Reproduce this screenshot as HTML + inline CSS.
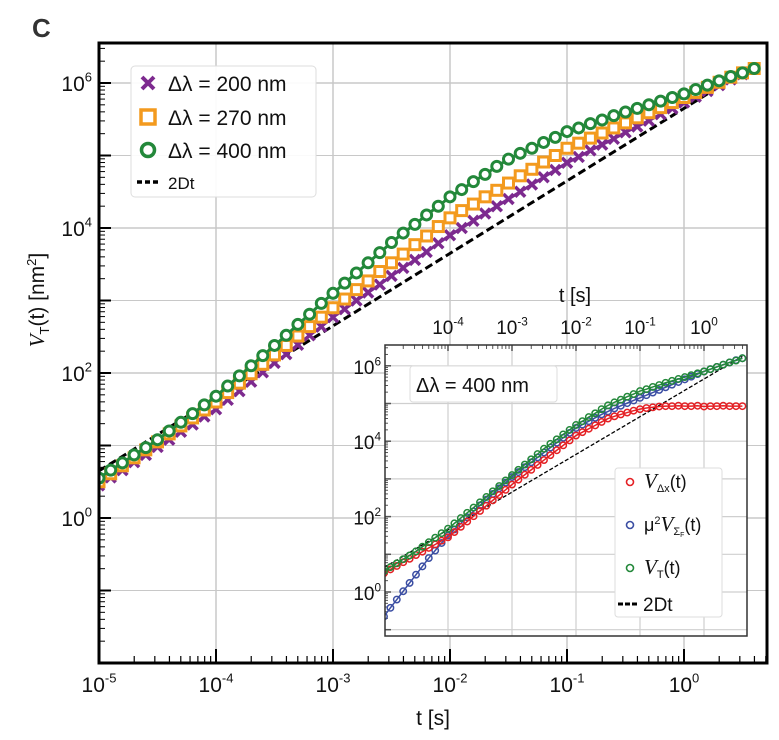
<!DOCTYPE html>
<html><head><meta charset="utf-8"><style>
html,body{margin:0;padding:0;background:#fff;width:779px;height:740px;overflow:hidden}
svg{display:block;font-family:"Liberation Sans",sans-serif}
</style></head><body>
<svg id="c" width="779" height="740" viewBox="0 0 779 740">
<text x="32" y="37" font-size="26" font-weight="bold" fill="#333">C</text>
</svg>
<script>
const tLog = [];
for (let i = 0; i <= 56; i++) tLog.push(-5 + i * 0.1);
const green400 = [0.55,0.66,0.76,0.87,0.97,1.08,1.2,1.32,1.44,1.56,1.68,1.82,1.96,2.1,2.24,2.38,2.52,2.67,2.81,2.96,3.1,3.24,3.38,3.52,3.66,3.8,3.93,4.05,4.18,4.3,4.43,4.53,4.64,4.74,4.85,4.95,5.03,5.1,5.18,5.25,5.33,5.38,5.44,5.49,5.55,5.6,5.65,5.7,5.75,5.8,5.85,5.91,5.97,6.03,6.09,6.14,6.2];
const orange270 = [0.5,0.61,0.72,0.83,0.94,1.05,1.16,1.27,1.38,1.49,1.6,1.73,1.86,1.99,2.12,2.25,2.38,2.51,2.64,2.77,2.9,3.02,3.15,3.27,3.4,3.52,3.64,3.77,3.89,4.02,4.14,4.24,4.33,4.43,4.52,4.62,4.72,4.81,4.91,5.0,5.1,5.17,5.24,5.31,5.38,5.45,5.52,5.59,5.66,5.73,5.8,5.87,5.94,6.01,6.08,6.14,6.2];
const purple200 = [0.45,0.56,0.66,0.77,0.87,0.98,1.08,1.19,1.29,1.4,1.5,1.63,1.75,1.88,2.01,2.14,2.26,2.39,2.52,2.64,2.77,2.88,3.0,3.11,3.22,3.34,3.45,3.56,3.67,3.79,3.9,4.0,4.1,4.2,4.3,4.4,4.5,4.6,4.7,4.8,4.9,4.98,5.07,5.15,5.23,5.32,5.4,5.48,5.57,5.65,5.73,5.81,5.89,5.97,6.05,6.12,6.2];
const redDx = [0.5,0.6,0.69,0.79,0.88,0.98,1.07,1.17,1.26,1.36,1.45,1.59,1.73,1.87,2.01,2.15,2.29,2.43,2.57,2.71,2.85,2.98,3.11,3.24,3.37,3.5,3.63,3.76,3.89,4.02,4.15,4.24,4.33,4.42,4.51,4.6,4.66,4.71,4.76,4.81,4.85,4.88,4.9,4.92,4.93,4.93,4.94,4.93,4.93,4.94,4.92,4.93,4.93,4.94,4.93,4.93,4.93];
const blueSig = [-0.65,-0.42,-0.2,0.02,0.24,0.46,0.68,0.9,1.1,1.3,1.5,1.66,1.82,1.98,2.14,2.3,2.45,2.6,2.75,2.9,3.05,3.18,3.31,3.44,3.57,3.7,3.83,3.96,4.09,4.22,4.35,4.44,4.53,4.62,4.71,4.79,4.87,4.94,5.01,5.08,5.15,5.22,5.29,5.36,5.43,5.5,5.57,5.64,5.71,5.78,5.85,5.91,5.97,6.03,6.09,6.15,6.2];
const diffLine = [-5, 0.6];
const diffOffset = 5.65;
const xTickExp = [-5,-4,-3,-2,-1,0];
const yTickExp = [0,2,4,6];
const insetXTickExp = [-4,-3,-2,-1,0];

const NS = "http://www.w3.org/2000/svg";
const svg = document.getElementById('c');
function el(tag, attrs, parent) {
  const e = document.createElementNS(NS, tag);
  for (const k in attrs) e.setAttribute(k, attrs[k]);
  (parent || svg).appendChild(e);
  return e;
}
const M = {x0:99, x1:767, y0:43, y1:663};
const mx = lt => 99 + (lt + 5) * 117;
const my = lv => 518 - lv * 72.5;
const I = {x0:385, x1:747, y0:345, y1:636};
const ix = lt => 448 + (lt + 4) * 64;
const iy = lv => 592 - lv * 37.7;

function expLabel(parent, x, y, e, size, anchor) {
  const t = el('text', {x:x, y:y, 'font-size':size, 'text-anchor':anchor, fill:'#111'}, parent);
  t.textContent = '10';
  const s = el('tspan', {dy: -size*0.45, 'font-size': size*0.62}, t);
  s.textContent = String(e);
  return t;
}

// ===== main plot =====
const gMain = el('g', {});


const gGrid = el('g', {stroke:'#c8c8c8', 'stroke-width':1.5}, gMain);


xTickExp.forEach(e => el('line', {x1:mx(e), x2:mx(e), y1:M.y0, y2:M.y1}, gGrid));
[-2,0,2,4,6].forEach(e => el('line', {x1:M.x0, x2:M.x1, y1:my(e), y2:my(e)}, gGrid));
[-1,1,3,5].forEach(e => el('line', {x1:M.x0, x2:M.x1, y1:my(e), y2:my(e), 'stroke-width':1}, gGrid));
const gTicks = el('g', {stroke:'#000'}, gMain);


for (let d = -5; d <= 0; d++) {
  el('line', {x1:mx(d), x2:mx(d), y1:M.y1, y2:M.y1-14, 'stroke-width':2}, gTicks);
  for (let k = 2; k <= 9; k++) {
    const x = mx(d + Math.log10(k));
    if (x < M.x1) el('line', {x1:x, x2:x, y1:M.y1, y2:M.y1-7, 'stroke-width':1.2}, gTicks);
  }
}
for (let d = -2; d <= 6; d++) {
  el('line', {x1:M.x0, x2:M.x0+12, y1:my(d), y2:my(d), 'stroke-width':2}, gTicks);
  for (let k = 2; k <= 9; k++) {
    const y = my(d + Math.log10(k));
    if (y > M.y0) el('line', {x1:M.x0, x2:M.x0+6, y1:y, y2:y, 'stroke-width':1}, gTicks);
  }
}
xTickExp.forEach(e => {
  const t = expLabel(gMain, mx(e), 692, e, 21, 'middle');
  
  
});
yTickExp.forEach(e => {
  const t = expLabel(gMain, 92, my(e)+8, e, 21, 'end');
  
  
});
const xt = el('text', {x:433, y:725, 'font-size':21, 'text-anchor':'middle', fill:'#111'}, gMain);
xt.textContent = 't [s]';


const yt = el('text', {transform:'translate(44,300) rotate(-90)', 'font-size':21, 'text-anchor':'middle', fill:'#111'}, gMain);
yt.innerHTML = '<tspan font-family="Liberation Serif" font-style="italic">V</tspan><tspan font-size="13" dy="5">T</tspan><tspan dy="-5">(t) [nm</tspan><tspan font-size="13" dy="-8">2</tspan><tspan dy="8">]</tspan>';



const defs = el('defs', {});
const cp = el('clipPath', {id:'mclip'}, defs);
el('rect', {x:M.x0, y:M.y0, width:M.x1-M.x0, height:M.y1-M.y0}, cp);
const cp2 = el('clipPath', {id:'iclip'}, defs);
el('rect', {x:I.x0, y:I.y0, width:I.x1-I.x0, height:I.y1-I.y0}, cp2);

const gData = el('g', {'clip-path':'url(#mclip)'}, gMain);
function pts(arr, fx, fy) { return arr.map((v,i) => fx(tLog[i]) + ',' + fy(v)).join(' '); }
const dl = el('line', {x1:mx(diffLine[0]), y1:my(diffLine[0]+diffOffset), x2:mx(diffLine[1]), y2:my(diffLine[1]+diffOffset), stroke:'#000', 'stroke-width':3, 'stroke-dasharray':'8,4'}, gData);


const series = [
  {name:'purple-200nm', data:purple200, col:'#7d2a8f', m:'x'},
  {name:'orange-270nm', data:orange270, col:'#f39a1e', m:'s'},
  {name:'green-400nm', data:green400, col:'#23883a', m:'o'}
];
series.forEach(s => {
  const g = el('g', {}, gData);
  
  
  el('polyline', {points:pts(s.data, mx, my), fill:'none', stroke:s.col, 'stroke-width':3}, g);
  s.data.forEach((v,i) => {
    const x = mx(tLog[i]), y = my(v);
    let m;
    if (s.m === 'x') { m = el('path', {d:`M${x-5},${y-5}L${x+5},${y+5}M${x-5},${y+5}L${x+5},${y-5}`, stroke:s.col, 'stroke-width':3.5}, g); }
    else if (s.m === 's') { m = el('rect', {x:x-5, y:y-5, width:10, height:10, fill:'#fff', stroke:s.col, 'stroke-width':3}, g); }
    else { m = el('circle', {cx:x, cy:y, r:5, fill:'#fff', stroke:s.col, 'stroke-width':3}, g); }
    
    
  });
});
const frame = el('rect', {x:M.x0, y:M.y0, width:M.x1-M.x0, height:M.y1-M.y0, fill:'none', stroke:'#000', 'stroke-width':3}, gMain);



const lg = el('g', {}, gMain);


el('rect', {x:131, y:66, width:185, height:131, rx:4, fill:'#fff', 'fill-opacity':0.9, stroke:'#ddd'}, lg);
const legItems = [['x','#7d2a8f','Δλ = 200 nm',83],['s','#f39a1e','Δλ = 270 nm',117],['o','#23883a','Δλ = 400 nm',150]];
legItems.forEach(([m,c,l,y]) => {
  const x = 148;
  if (m==='x') el('path', {d:`M${x-6},${y-6}L${x+6},${y+6}M${x-6},${y+6}L${x+6},${y-6}`, stroke:c, 'stroke-width':4}, lg);
  else if (m==='s') el('rect', {x:x-7, y:y-7, width:14, height:14, fill:'#fff', stroke:c, 'stroke-width':3.5}, lg);
  else el('circle', {cx:x, cy:y, r:6.5, fill:'#fff', stroke:c, 'stroke-width':3.5}, lg);
  const t = el('text', {x:168, y:y+8, 'font-size':21, fill:'#111'}, lg);
  t.textContent = l;
  
  
});
el('line', {x1:137, x2:158, y1:182, y2:182, stroke:'#000', 'stroke-width':3.5, 'stroke-dasharray':'5,3'}, lg);
const t2 = el('text', {x:168, y:189, 'font-size':17, fill:'#111'}, lg);
t2.textContent = '2Dt';

// ===== inset =====
const gIn = el('g', {});


el('rect', {x:I.x0, y:I.y0, width:I.x1-I.x0, height:I.y1-I.y0, fill:'#fff'}, gIn);
const ig = el('g', {stroke:'#cfcfcf', 'stroke-width':1.2, 'clip-path':'url(#iclip)'}, gIn);


insetXTickExp.forEach(e => el('line', {x1:ix(e), x2:ix(e), y1:I.y0, y2:I.y1}, ig));
for (let d = -1; d <= 7; d++) el('line', {x1:I.x0, x2:I.x1, y1:iy(d), y2:iy(d)}, ig);
const it = el('g', {stroke:'#555'}, gIn);
for (let d = -5; d <= 0; d++) {
  if (ix(d) >= I.x0) el('line', {x1:ix(d), x2:ix(d), y1:I.y0, y2:I.y0+6, 'stroke-width':1.5}, it);
  for (let k = 2; k <= 9; k++) {
    const x = ix(d + Math.log10(k));
    if (x > I.x0 && x < I.x1) el('line', {x1:x, x2:x, y1:I.y0, y2:I.y0+4}, it);
  }
}
for (let d = -1; d <= 6; d++) {
  if (iy(d) < I.y1) el('line', {x1:I.x0, x2:I.x0+6, y1:iy(d), y2:iy(d), 'stroke-width':1.5}, it);
  for (let k = 2; k <= 9; k++) {
    const y = iy(d + Math.log10(k));
    if (y > I.y0 && y < I.y1) el('line', {x1:I.x0, x2:I.x0+3, y1:y, y2:y}, it);
  }
}
insetXTickExp.forEach(e => {
  const t = expLabel(gIn, ix(e), 334, e, 19, 'middle');
  
  
});
yTickExp.forEach(e => {
  const t = expLabel(gIn, 381, iy(e)+8, e, 19, 'end');
  
  
});
const ixt = el('text', {x:575, y:302, 'font-size':20, 'text-anchor':'middle', fill:'#111'}, gIn);
ixt.textContent = 't [s]';



const gid = el('g', {'clip-path':'url(#iclip)'}, gIn);
const idl = el('line', {x1:ix(diffLine[0]), y1:iy(diffLine[0]+diffOffset), x2:ix(diffLine[1]), y2:iy(diffLine[1]+diffOffset), stroke:'#000', 'stroke-width':1.3, 'stroke-dasharray':'4,2'}, gid);


const iSeries = [
  {name:'blue-sigma', data:blueSig, col:'#3b4ea3'},
  {name:'red-dx', data:redDx, col:'#e42024'},
  {name:'green-total', data:green400, col:'#23883a'}
];
iSeries.forEach(s => {
  const g = el('g', {}, gid);
  
  
  el('polyline', {points:pts(s.data, ix, iy), fill:'none', stroke:s.col, 'stroke-width':1.5}, g);
  s.data.forEach((v,i) => {
    const c = el('circle', {cx:ix(tLog[i]), cy:iy(v), r:3.2, fill:'none', stroke:s.col, 'stroke-width':1.5}, g);
    
    
  });
});
const iframe = el('rect', {x:I.x0, y:I.y0, width:I.x1-I.x0, height:I.y1-I.y0, fill:'none', stroke:'#333', 'stroke-width':1.5}, gIn);


const lb = el('g', {}, gIn);


el('rect', {x:410, y:366, width:147, height:36, rx:3, fill:'#fff', stroke:'#ddd'}, lb);
const lbt = el('text', {x:416, y:392, 'font-size':20, fill:'#111'}, lb);
lbt.textContent = 'Δλ = 400 nm';
const il = el('g', {}, gIn);


el('rect', {x:615, y:468, width:107, height:149, rx:3, fill:'#fff', stroke:'#ddd'}, il);
const ilItems = [['#e42024',482,'<tspan font-family="Liberation Serif" font-style="italic" font-size="21">V</tspan><tspan font-size="11" dy="4">Δx</tspan><tspan dy="-4">(t)</tspan>'],
  ['#3b4ea3',525,'μ<tspan font-size="11" dy="-7">2</tspan><tspan dy="7" font-family="Liberation Serif" font-style="italic" font-size="21">V</tspan><tspan font-size="11" dy="4">Σ</tspan><tspan font-size="7" dy="2">F</tspan><tspan dy="-6">(t)</tspan>'],
  ['#23883a',568,'<tspan font-family="Liberation Serif" font-style="italic" font-size="21">V</tspan><tspan font-size="11" dy="4">T</tspan><tspan dy="-4">(t)</tspan>']];
ilItems.forEach(([c,y,h]) => {
  el('circle', {cx:630, cy:y, r:3.5, fill:'none', stroke:c, 'stroke-width':1.6}, il);
  const t = el('text', {x:644, y:y+6, 'font-size':18, fill:'#111'}, il);
  t.innerHTML = h;
  
  
});
el('line', {x1:618, x2:638, y1:604, y2:604, stroke:'#000', 'stroke-width':3, 'stroke-dasharray':'5,2'}, il);
const ilt = el('text', {x:643, y:611, 'font-size':19, fill:'#111'}, il);
ilt.textContent = '2Dt';
</script>
</body></html>
